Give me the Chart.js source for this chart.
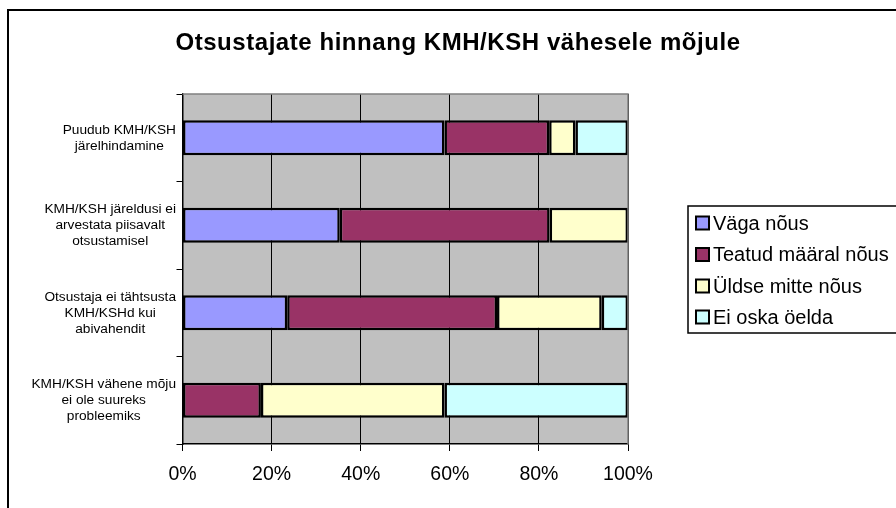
<!DOCTYPE html>
<html>
<head>
<meta charset="utf-8">
<script src="https://cdn.jsdelivr.net/npm/chart.js@4"></script>
<style>
html,body{margin:0;padding:0;background:#fff;}
canvas{display:block;}
</style>
</head>
<body>
<canvas id="c" width="896" height="508"></canvas>
<script>
const chartTitle = 'Otsustajate hinnang KMH/KSH vähesele mõjule';
const categories = [
  ['Puudub KMH/KSH', 'järelhindamine'],
  ['KMH/KSH järeldusi ei', 'arvestata piisavalt', 'otsustamisel'],
  ['Otsustaja ei tähtsusta', 'KMH/KSHd kui', 'abivahendit'],
  ['KMH/KSH vähene mõju', 'ei ole suureks', 'probleemiks']
];
const seriesNames = ['Väga nõus', 'Teatud määral nõus', 'Üldse mitte nõus', 'Ei oska öelda'];
const vagaNous = [58.8, 35.3, 23.5, 0];
const teatudMaaral = [23.5, 47.1, 47.1, 17.6];
const uldseMitte = [5.9, 17.6, 23.5, 41.2];
const eiOska = [11.8, 0, 5.9, 41.2];
const seriesColors = ['#9999FF', '#993366', '#FFFFCC', '#CCFFFF'];
const xTicks = [0, 20, 40, 60, 80, 100];

const FONT = '"Liberation Sans", Arial, sans-serif';

const decor = {
  id: 'decor',
  beforeDraw(chart) {
    const ctx = chart.ctx;
    const a = chart.chartArea;
    ctx.save();
    ctx.fillStyle = '#fff';
    ctx.fillRect(0, 0, chart.width, chart.height);
    // outer chart border
    ctx.strokeStyle = '#000';
    ctx.lineWidth = 2;
    ctx.beginPath();
    ctx.moveTo(8, chart.height + 5);
    ctx.lineTo(8, 10);
    ctx.lineTo(chart.width + 5, 10);
    ctx.stroke();
    // plot background
    ctx.fillStyle = '#C0C0C0';
    ctx.fillRect(a.left, a.top, a.right - a.left, a.bottom - a.top);
    ctx.restore();
  },
  afterDraw(chart) {
    const ctx = chart.ctx;
    const a = chart.chartArea;
    ctx.save();
    // plot border top/right gray
    ctx.strokeStyle = '#808080';
    ctx.lineWidth = 1.5;
    ctx.beginPath();
    ctx.moveTo(a.left, a.top);
    ctx.lineTo(a.right, a.top);
    ctx.lineTo(a.right, a.bottom);
    ctx.stroke();
    // title
    ctx.fillStyle = '#000';
    ctx.font = 'bold 24px ' + FONT;
    ctx.letterSpacing = '0.55px';
    ctx.textAlign = 'center';
    ctx.textBaseline = 'alphabetic';
    ctx.fillText(chartTitle, 458, 50);
    ctx.letterSpacing = '0px';
    // category labels: blocks right aligned, lines centered
    const ys = chart.scales.y;
    ctx.font = '13.7px ' + FONT;
    ctx.textBaseline = 'middle';
    const lh = 16;
    chart.data.labels.forEach((lbl, i) => {
      const lines = Array.isArray(lbl) ? lbl : [lbl];
      let w = 0;
      lines.forEach(l => { w = Math.max(w, ctx.measureText(l).width); });
      const cx = 176 - w / 2;
      const cy = ys.getPixelForValue(i);
      lines.forEach((l, j) => {
        ctx.fillText(l, cx, cy + (j - (lines.length - 1) / 2) * lh);
      });
    });
    // legend
    ctx.strokeStyle = '#000';
    ctx.lineWidth = 1.5;
    ctx.strokeRect(688, 206, 230, 127);
    ctx.font = '20px ' + FONT;
    ctx.textAlign = 'left';
    const rowY = [223, 254.5, 286, 317];
    chart.data.datasets.forEach((ds, i) => {
      const y = rowY[i];
      ctx.fillStyle = ds.backgroundColor;
      ctx.fillRect(696, y - 6.5, 13, 13);
      ctx.lineWidth = 2;
      ctx.strokeStyle = '#000';
      ctx.strokeRect(696, y - 6.5, 13, 13);
      ctx.fillStyle = '#000';
      ctx.fillText(ds.label, 713, y + 1);
    });
    ctx.restore();
  }
};

const seriesData = [vagaNous, teatudMaaral, uldseMitte, eiOska];

new Chart(document.getElementById('c'), {
  type: 'bar',
  data: {
    labels: categories,
    datasets: seriesNames.map((n, i) => ({
      label: n,
      data: seriesData[i],
      backgroundColor: seriesColors[i],
      borderColor: '#000',
      borderWidth: 2.5,
      borderSkipped: false,
      barPercentage: 0.4,
      categoryPercentage: 1.0
    }))
  },
  options: {
    indexAxis: 'y',
    responsive: false,
    animation: false,
    devicePixelRatio: 1,
    layout: { padding: { top: 94, right: 268, left: 0, bottom: 0 } },
    plugins: { legend: { display: false }, title: { display: false }, tooltip: { enabled: false } },
    scales: {
      x: {
        stacked: true,
        min: 0, max: 100,
        afterFit(s) { s.height = 64; },
        afterBuildTicks(s) { s.ticks = xTicks.map(v => ({ value: v })); },
        ticks: { callback: v => v + '%', color: '#000', font: { family: FONT, size: 19.5 }, padding: 12, maxRotation: 0 },
        grid: { color: '#000', lineWidth: 1, tickLength: 7, drawOnChartArea: true },
        border: { color: '#000', width: 1.5 }
      },
      y: {
        stacked: true,
        afterFit(s) { s.width = 182.5; },
        ticks: { display: false },
        grid: { color: '#000', lineWidth: 1, tickLength: 6, drawOnChartArea: false, offset: true },
        border: { color: '#000', width: 1.5 }
      }
    }
  },
  plugins: [decor]
});
</script>
</body>
</html>
